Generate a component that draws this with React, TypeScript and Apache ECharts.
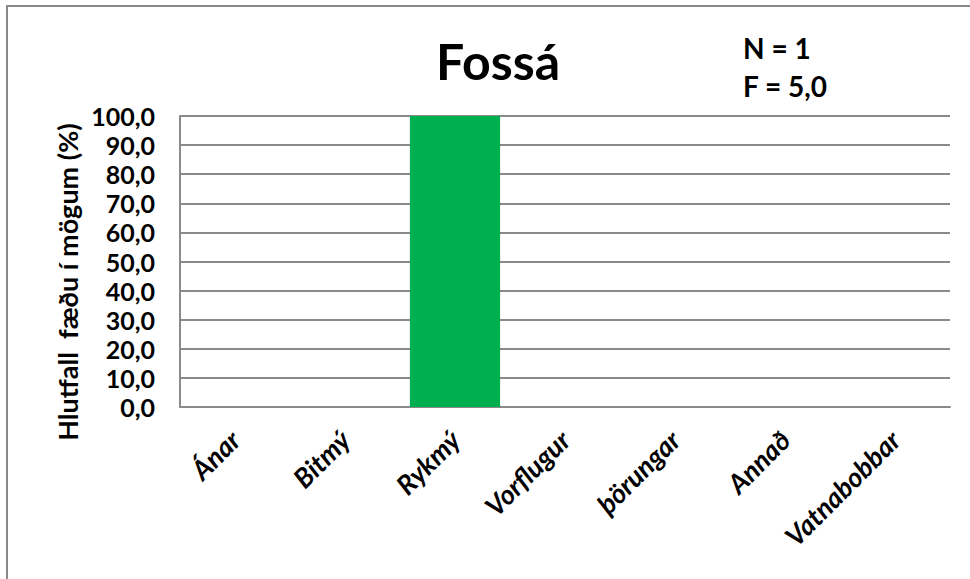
import React, { useEffect, useRef } from "react";
import * as echarts from "echarts";

const categories = ["Ánar", "Bitmý", "Rykmý", "Vorflugur", "þörungar", "Annað", "Vatnabobbar"];
const values = [0, 0, 100, 0, 0, 0, 0];
const titleText = "Fossá";
const noteLines = ["N = 1", "F = 5,0"];
const yName = "Hlutfall  fæðu í mögum (%)";

const FONT = "Lato, 'Open Sans', sans-serif";

export default function App() {
  const ref = useRef<HTMLDivElement>(null);
  useEffect(() => {
    if (!ref.current) return;
    const chart = echarts.init(ref.current, null, { renderer: "svg" });
    chart.setOption({
      animation: false,
      backgroundColor: "#ffffff",
      grid: { left: 180, right: 20, top: 116, bottom: 172, containLabel: false },
      xAxis: {
        type: "category",
        data: categories,
        axisLine: { show: true, lineStyle: { color: "#8a8a8a", width: 2 } },
        axisTick: { show: false },
        axisLabel: {
          interval: 0,
          rotate: 45,
          margin: 28,
          color: "#000",
          fontFamily: FONT,
          fontWeight: "bold",
          fontStyle: "italic",
          fontSize: 27,
        },
      },
      yAxis: {
        type: "value",
        min: 0,
        max: 100,
        interval: 10,
        axisLine: { show: true, lineStyle: { color: "#8a8a8a", width: 2 } },
        axisTick: { show: false },
        splitLine: { show: true, lineStyle: { color: "#8a8a8a", width: 2 } },
        axisLabel: {
          margin: 25,
          color: "#000",
          fontFamily: FONT,
          fontWeight: "bold",
          fontSize: 25,
          formatter: (v: number) => v.toFixed(1).replace(".", ","),
        },
      },
      series: [
        {
          type: "bar",
          data: values,
          barCategoryGap: "18%",
          itemStyle: { color: "#00B050" },
        },
      ],
      graphic: [
        {
          type: "rect",
          shape: { x: 7, y: 6, width: 1000, height: 700 },
          style: { fill: "none", stroke: "#898989", lineWidth: 2 },
          silent: true,
          z: 100,
        },
        {
          type: "text",
          x: 67,
          y: 282,
          rotation: Math.PI / 2,
          style: {
            x: 0,
            y: 0,
            text: yName,
            fill: "#000",
            font: `bold 27px ${FONT}`,
            align: "center",
            verticalAlign: "middle",
          },
        },
        {
          type: "text",
          style: {
            x: 498,
            y: 61,
            text: titleText,
            fill: "#000",
            font: `bold 50px ${FONT}`,
            align: "center",
            verticalAlign: "middle",
          },
        },
        {
          type: "text",
          style: {
            x: 743,
            y: 48,
            text: noteLines[0],
            fill: "#000",
            font: `bold 28px ${FONT}`,
            align: "left",
            verticalAlign: "middle",
          },
        },
        {
          type: "text",
          style: {
            x: 743,
            y: 86,
            text: noteLines[1],
            fill: "#000",
            font: `bold 28px ${FONT}`,
            align: "left",
            verticalAlign: "middle",
          },
        },
      ],
    });
    return () => chart.dispose();
  }, []);
  return (
    <div
      ref={ref}
      style={{ position: "absolute", left: 0, top: 0, width: 970, height: 579 }}
    />
  );
}
